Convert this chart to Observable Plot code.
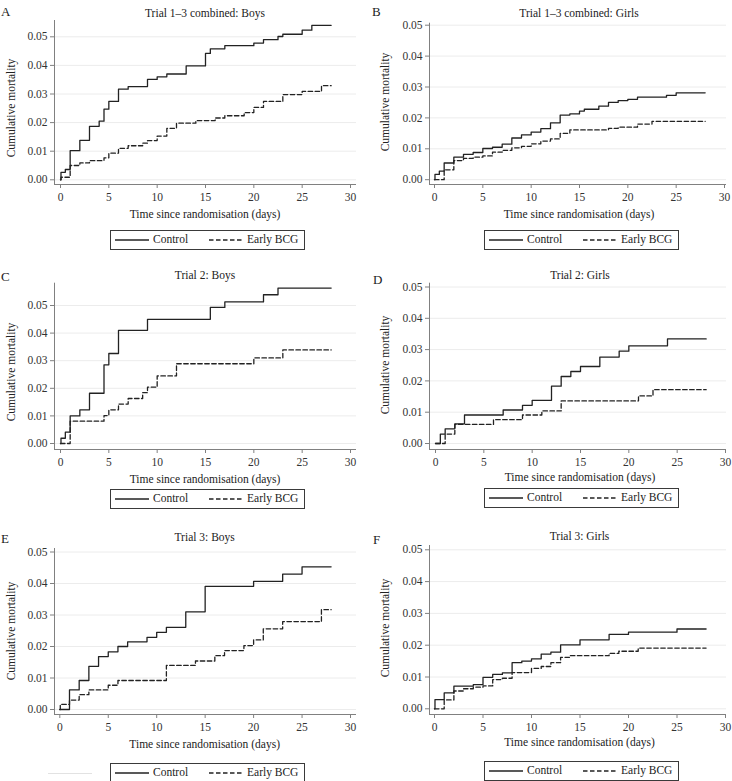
<!DOCTYPE html>
<html><head><meta charset="utf-8">
<script src="https://cdn.jsdelivr.net/npm/d3@7"></script>
<script src="https://cdn.jsdelivr.net/npm/@observablehq/plot@0.6"></script>
<style>
html,body{margin:0;padding:0;background:#fff;overflow:hidden;}
#root{position:relative;width:732px;height:781px;font-family:"Liberation Serif","Times New Roman",serif;color:#222;overflow:hidden;}
.panel{position:absolute;width:366px;height:262px;}
.panel svg.chart{position:absolute;left:0;top:0;overflow:visible;}
.lbl{position:absolute;font-size:13px;line-height:1;}
.ctr{position:absolute;font-size:11.5px;white-space:nowrap;line-height:1;transform:translate(-50%,-50%);}
.ylab{position:absolute;font-size:11.5px;white-space:nowrap;line-height:1;transform:translate(-50%,-50%) rotate(-90deg);}
.legend{position:absolute;border:1px solid #3a3a3a;box-sizing:border-box;height:20px;width:195px;font-size:11.5px;}
.legend span{position:absolute;top:3px;line-height:1;white-space:nowrap;}
.legend svg{position:absolute;left:0;top:0;}
</style>
</head><body><div id="root"></div>
<script>
// ---------- data ----------
const panelLetters = ["A","B","C","D","E","F"];
const panelTitles = ["Trial 1\u20133 combined: Boys","Trial 1\u20133 combined: Girls","Trial 2: Boys","Trial 2: Girls","Trial 3: Boys","Trial 3: Girls"];
const seriesNames = ["Control","Early BCG"];
const xTicks = [0,5,10,15,20,25,30];
const yTicks = [0,0.01,0.02,0.03,0.04,0.05];
const xLabel = "Time since randomisation (days)";
const yLabel = "Cumulative mortality";

const aCtlT = [0,0.05,0.5,1,2,3,4,4.5,5,6,7,9,10,11,13,15,15.5,17,20,21,22.5,23,25,26,28];
const aCtlV = [0,0.0026,0.0036,0.0102,0.0138,0.0187,0.0205,0.0247,0.0274,0.0317,0.0326,0.0351,0.036,0.037,0.0398,0.0442,0.0458,0.0469,0.0478,0.049,0.0501,0.0509,0.0523,0.054,0.054];
const aBcgT = [0,0.05,1,2,3,4.5,5,6,7,8.5,9,10,11,12,14,16,17,19,20,21,23,25,27,28];
const aBcgV = [0,0.0009,0.005,0.0059,0.0067,0.0077,0.0093,0.011,0.0119,0.0128,0.0137,0.0153,0.018,0.0198,0.0207,0.0216,0.0224,0.0235,0.0253,0.0274,0.0298,0.0309,0.0329,0.0329];

const bCtlT = [0,0.05,0.5,1,2,3,4,5,6,7,8,9,10,11,12,13,14,15,15.5,17,18,19,20,21,24,25,28];
const bCtlV = [0,0.0017,0.0028,0.0054,0.0073,0.0082,0.0088,0.0101,0.0105,0.0115,0.0135,0.0145,0.0154,0.0165,0.0184,0.0209,0.0213,0.0222,0.0228,0.0238,0.025,0.0256,0.026,0.0267,0.0273,0.0281,0.0281];
const bBcgT = [0,1,2,3,4,5,6,7,8,9,10,11,12,13,14,18,19,21,22.5,28];
const bBcgV = [0,0.0032,0.0062,0.0069,0.0073,0.0077,0.0089,0.0095,0.0103,0.0108,0.0116,0.0125,0.0132,0.015,0.0161,0.0166,0.017,0.018,0.0189,0.0189];

const cCtlT = [0,0.05,0.5,1,2,3,4.5,5,6,9,15.5,17,21,22.5,28];
const cCtlV = [0,0.0019,0.0041,0.01,0.0122,0.0182,0.0285,0.0326,0.041,0.045,0.0493,0.0513,0.0539,0.0563,0.0563];
const cBcgT = [0,1,4.5,5,6,7,8.5,9,10,12,20,23,28];
const cBcgV = [0,0.0081,0.0101,0.0122,0.0143,0.0163,0.0184,0.0204,0.0245,0.0289,0.031,0.0339,0.0339];

const dCtlT = [0,0.5,1,2,3,7,9,10,12,13,14,15,17,19,20,24,28];
const dCtlV = [0,0.003,0.0047,0.0063,0.0091,0.0107,0.0122,0.0138,0.0183,0.0214,0.023,0.0246,0.0276,0.0295,0.0312,0.0334,0.0334];
const dBcgT = [0,1,2,6,9,11,13,21,22.5,28];
const dBcgV = [0,0.003,0.0061,0.0076,0.0091,0.0104,0.0136,0.0152,0.0172,0.0172];

const eCtlT = [0,1,2,3,4,5,6,7,9,10,11,13,15,20,23,25,28];
const eCtlV = [0,0.0062,0.0092,0.0137,0.0168,0.0183,0.02,0.0215,0.0229,0.0245,0.0261,0.031,0.0391,0.0407,0.043,0.0453,0.0453];
const eBcgT = [0,0.05,1,2,3,5,6,11,14,16,17,19,20,21,23,27,28];
const eBcgV = [0,0.0016,0.003,0.0047,0.0062,0.0077,0.0092,0.014,0.0154,0.0171,0.0187,0.0203,0.0221,0.0256,0.0279,0.0317,0.0317];

const fCtlT = [0,0.05,1,2,4,5,6,7,8,9,10,11,12,13,15,18,20,25,28];
const fCtlV = [0,0.0029,0.005,0.0071,0.0076,0.0099,0.0108,0.0113,0.0145,0.015,0.0157,0.0172,0.0178,0.0201,0.0217,0.0234,0.0241,0.0251,0.0251];
const fBcgT = [0,1,2,3,4,5,6,7,8,10,11,12,13,14,18,19,21,28];
const fBcgV = [0,0.0028,0.0056,0.0063,0.0068,0.0072,0.0092,0.0096,0.0114,0.0127,0.0133,0.0145,0.0162,0.0167,0.0174,0.0181,0.0191,0.0191];

const series = [
  [[aCtlT,aCtlV],[aBcgT,aBcgV]],
  [[bCtlT,bCtlV],[bBcgT,bBcgV]],
  [[cCtlT,cCtlV],[cBcgT,cBcgV]],
  [[dCtlT,dCtlV],[dBcgT,dBcgV]],
  [[eCtlT,eCtlV],[eBcgT,eBcgV]],
  [[fCtlT,fCtlV],[fBcgT,fBcgV]]
];

// ---------- layout (pixels within each panel) ----------
const layout = [
  {ox:0,  oy:0,   left:54, right:356, x0:60,   x30:350, yTop:20,   yBot:184, y0:179.3, per01:28.6, titleY:14, xlabY:215, ylabX:12, ylabY:108, legX:110, legY:230, letX:1, letY:5},
  {ox:366,oy:0,   left:63, right:360, x0:68,   x30:358, yTop:22.7, yBot:184, y0:179.2, per01:30.9, titleY:14, xlabY:215, ylabX:20, ylabY:102, legX:118, legY:230, letX:6, letY:5},
  {ox:0,  oy:260, left:54, right:356, x0:60,   x30:350, yTop:22.7, yBot:189, y0:183,   per01:27.6, titleY:16, xlabY:220, ylabX:12, ylabY:112, legX:110, legY:229, letX:1, letY:10},
  {ox:366,oy:260, left:63, right:360, x0:69,   x30:359, yTop:22.7, yBot:189, y0:183,   per01:31.3, titleY:16, xlabY:218, ylabX:20, ylabY:105, legX:118, legY:228, letX:7, letY:13},
  {ox:0,  oy:520, left:54, right:356, x0:59.3, x30:350, yTop:28,   yBot:194, y0:189,   per01:31.5, titleY:18, xlabY:225, ylabX:12, ylabY:111, legX:110, legY:243, letX:1, letY:12},
  {ox:366,oy:520, left:63, right:360, x0:68,   x30:359, yTop:25,   yBot:194, y0:188.3, per01:31.8, titleY:17, xlabY:223, ylabX:20, ylabY:108, legX:118, legY:241, letX:7, letY:13}
];

const FONT = '"Liberation Serif","Times New Roman",serif';
const dash = "4.5,2.5";
const root = document.getElementById("root");

function el(tag, cls, css, text) {
  const e = document.createElement(tag);
  if (cls) e.className = cls;
  Object.assign(e.style, css || {});
  if (text != null) e.textContent = text;
  return e;
}

layout.forEach((L, i) => {
  const p = el("div", "panel", {left: L.ox + "px", top: L.oy + "px"});
  root.appendChild(p);
  const kx = (L.x30 - L.x0) / 30;
  const xd = [(L.left - L.x0) / kx, (L.right - L.x0) / kx];
  const ky = L.per01 / 0.01;
  const yd = [(L.y0 - L.yBot) / ky, (L.y0 - L.yTop) / ky];
  const H = 232;
  const toRows = ([T, V]) => T.map((t, j) => ({t, v: V[j]}));
  const ctl = toRows(series[i][0]);
  const bcg = toRows(series[i][1]);
  const chart = Plot.plot({
    width: 366, height: H,
    marginLeft: L.left, marginRight: 366 - L.right,
    marginTop: L.yTop, marginBottom: H - L.yBot,
    x: {domain: xd}, y: {domain: yd},
    style: {fontFamily: FONT, fontSize: "11.5px", color: "#333", background: "transparent", overflow: "visible"},
    marks: [
      Plot.ruleY(yTicks, {stroke: "#ececec", strokeWidth: 1}),
      Plot.ruleX([xd[0]], {stroke: "#808080", strokeWidth: 1}),
      Plot.ruleY([yd[0]], {stroke: "#808080", strokeWidth: 1}),
      Plot.axisX({ticks: xTicks, tickSize: 4, tickPadding: 4, label: null, tickFormat: d => String(d), stroke: "#808080"}),
      Plot.axisY({ticks: yTicks, tickSize: 4, tickPadding: 3, label: null, tickFormat: d3.format(".2f"), stroke: "#808080"}),
      Plot.line(ctl, {x: "t", y: "v", curve: "step-after", stroke: "#222", strokeWidth: 1.3}),
      Plot.line(bcg, {x: "t", y: "v", curve: "step-after", stroke: "#222", strokeWidth: 1.3, strokeDasharray: dash})
    ]
  });
  chart.classList.add("chart");
  p.appendChild(chart);

  const cx = (L.x0 + L.x30) / 2;
  p.appendChild(el("div", "lbl", {left: L.letX + "px", top: L.letY + "px"}, panelLetters[i]));
  p.appendChild(el("div", "ctr", {left: cx + "px", top: L.titleY + "px"}, panelTitles[i]));
  p.appendChild(el("div", "ctr", {left: cx + "px", top: L.xlabY + "px"}, xLabel));
  p.appendChild(el("div", "ylab", {left: L.ylabX + "px", top: L.ylabY + "px"}, yLabel));

  const lg = el("div", "legend", {left: L.legX + "px", top: L.legY + "px"});
  lg.innerHTML = '<svg width="195" height="18"><line x1="4" x2="38" y1="9" y2="9" stroke="#222" stroke-width="1.3"/>' +
    '<line x1="98" x2="132" y1="9" y2="9" stroke="#222" stroke-width="1.3" stroke-dasharray="' + dash + '"/></svg>';
  lg.appendChild(el("span", null, {left: "42px"}, seriesNames[0]));
  lg.appendChild(el("span", null, {left: "136px"}, seriesNames[1]));
  p.appendChild(lg);

  if (i === 4) p.appendChild(el("div", null, {position: "absolute", left: "48px", top: "253px", width: "44px", height: "1px", background: "#e2e2e2"}));
});
</script>
</body></html>
